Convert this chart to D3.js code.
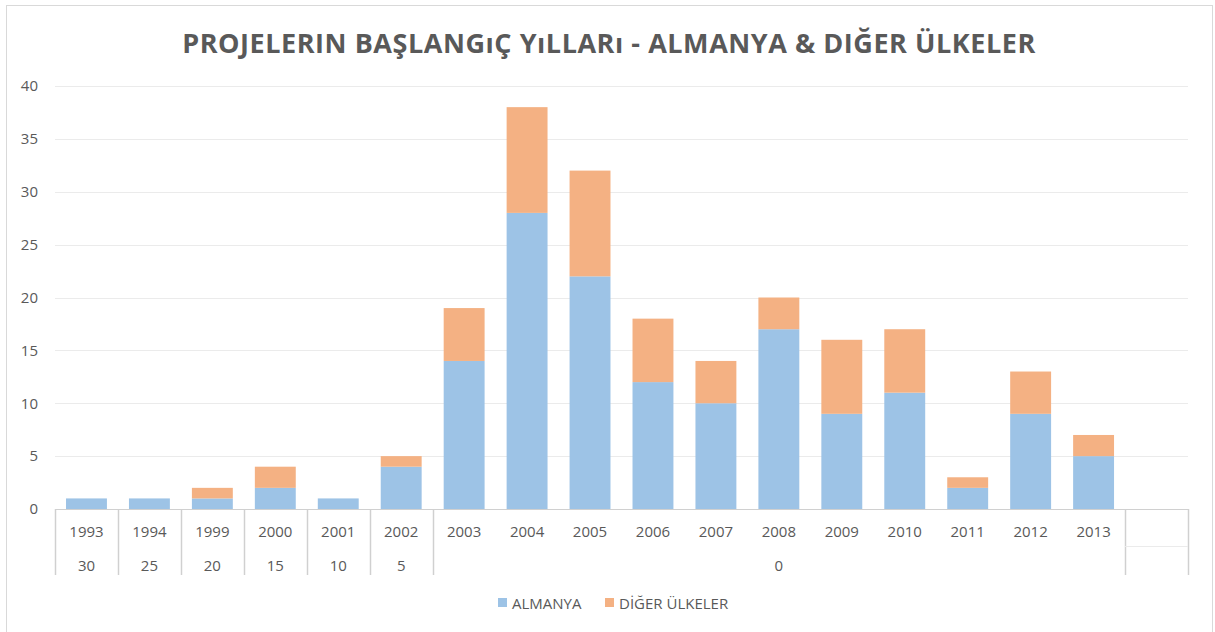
<!DOCTYPE html>
<html>
<head>
<meta charset="utf-8">
<script src="https://cdn.jsdelivr.net/npm/d3@7"></script>
<style>
  body { margin: 0; background: #fff; }
  text { font-family: "Open Sans", "Noto Sans", sans-serif; fill: #595959; }
</style>
</head>
<body>
<svg id="chart"></svg>
<script>
// chart data
var years = ["1993","1994","1999","2000","2001","2002","2003","2004","2005",
             "2006","2007","2008","2009","2010","2011","2012","2013"];
var almanya = [1,1,1,2,1,4,14,28,22,12,10,17,9,11,2,9,5];
var diger   = [0,0,1,2,0,1,5,10,10,6,4,3,7,6,1,4,2];
// second level of the category axis
var groupLabels = ["30","25","20","15","10","5","0",""];
var groupSizes  = [1,1,1,1,1,1,11,1];
var yTicks = [0,5,10,15,20,25,30,35,40];
var seriesNames = ["ALMANYA","DİĞER ÜLKELER"];
var seriesColors = ["#9DC3E6","#F4B183"];

var screen = {width:1215, height:632};
var margins = {left:55, right:27, top:86, bottom:123};
var graph = {
    width: screen.width - margins.left - margins.right,
    height: screen.height - margins.top - margins.bottom
};

var svg = d3.select("#chart")
    .attr("width", screen.width)
    .attr("height", screen.height);

// outer border
svg.append("rect")
    .attr("x", 6.5).attr("y", 5.5)
    .attr("width", 1206).attr("height", 640)
    .attr("fill", "#fff")
    .attr("stroke", "#D9D9D9");

// title
svg.append("text")
    .attr("x", 609).attr("y", 53)
    .attr("text-anchor", "middle")
    .style("font-size", "27px")
    .style("font-weight", "bold")
    .style("letter-spacing", "0.55px")
    .text("PROJELERIN BAŞLANGıÇ YıLLARı - ALMANYA & DIĞER ÜLKELER");

// one empty slot at the end of the axis
var slots = years.concat([""]);
var xScale = d3.scaleBand()
    .domain(d3.range(slots.length))
    .range([0, graph.width])
    .paddingInner(0.35)
    .paddingOuter(0.175);
var yScale = d3.scaleLinear()
    .domain([0,40])
    .range([graph.height, 0]);

var g = svg.append("g")
    .attr("transform", "translate(" + margins.left + "," + margins.top + ")");

// gridlines
g.append("g")
    .selectAll("line")
    .data(yTicks.slice(1))
    .enter()
    .append("line")
    .attr("x1", 0).attr("x2", graph.width)
    .attr("y1", function(d){ return Math.round(yScale(d)) + 0.5; })
    .attr("y2", function(d){ return Math.round(yScale(d)) + 0.5; })
    .attr("stroke", "#EBEBEB");

// y axis labels
var yAxis = d3.axisLeft(yScale).tickValues(yTicks).tickSize(0).tickPadding(17);
g.append("g").call(yAxis)
    .call(function(a){ a.select(".domain").remove(); })
    .selectAll("text")
    .style("font-size", "15px")
    .attr("fill", "#595959");

// stacked bars
var stackData = years.map(function(y, i){ return {i:i, a:almanya[i], d:diger[i]}; });
var stack = d3.stack().keys(["a","d"])(stackData);

g.selectAll(".series")
    .data(stack)
    .enter()
    .append("g")
    .attr("fill", function(s, k){ return seriesColors[k]; })
    .selectAll("rect")
    .data(function(s){ return s.filter(function(p){ return p[1] > p[0]; }); })
    .enter()
    .append("rect")
    .attr("x", function(p){ return xScale(p.data.i); })
    .attr("width", xScale.bandwidth())
    .attr("y", function(p){ return yScale(p[1]); })
    .attr("height", function(p){ return yScale(p[0]) - yScale(p[1]); });

// category axis (two levels)
var step = xScale.step();
var axisG = g.append("g").attr("transform", "translate(0," + graph.height + ")");
var row = 37, rowEnd = 66;

axisG.append("line")
    .attr("x1", 0).attr("x2", graph.width)
    .attr("y1", 0.5).attr("y2", 0.5)
    .attr("stroke", "#D0D0D0");

// year labels
axisG.selectAll(".year")
    .data(years)
    .enter()
    .append("text")
    .attr("x", function(d, i){ return xScale(i) + xScale.bandwidth()/2; })
    .attr("y", 28)
    .attr("text-anchor", "middle")
    .style("font-size", "15px")
    .text(function(d){ return d; });

// group labels + separators
var starts = [0];
groupSizes.forEach(function(n, k){ starts.push(starts[k] + n); });
axisG.selectAll(".sep")
    .data(starts)
    .enter()
    .append("line")
    .attr("x1", function(s){ return Math.round(s*step) + 0.5; })
    .attr("x2", function(s){ return Math.round(s*step) + 0.5; })
    .attr("y1", 0).attr("y2", rowEnd)
    .attr("stroke", "#D0D0D0")
    .attr("stroke-width", 1.5);

axisG.selectAll(".grp")
    .data(groupLabels)
    .enter()
    .append("text")
    .attr("x", function(d, k){ return (starts[k] + groupSizes[k]/2) * step; })
    .attr("y", 62)
    .attr("text-anchor", "middle")
    .style("font-size", "15px")
    .text(function(d){ return d; });

// faint row divider in the last slot
axisG.append("line")
    .attr("x1", starts[7]*step).attr("x2", starts[8]*step)
    .attr("y1", row + 0.5).attr("y2", row + 0.5)
    .attr("stroke", "#EBEBEB");

// legend
var legend = svg.append("g").attr("transform", "translate(498,598)");
var lx = [0, 107];
seriesNames.forEach(function(name, k){
    legend.append("rect")
        .attr("x", lx[k]).attr("y", 0)
        .attr("width", 9).attr("height", 9)
        .attr("fill", seriesColors[k]);
    legend.append("text")
        .attr("x", lx[k] + 14).attr("y", 11)
        .style("font-size", "15px")
        .text(name);
});
</script>
</body>
</html>
